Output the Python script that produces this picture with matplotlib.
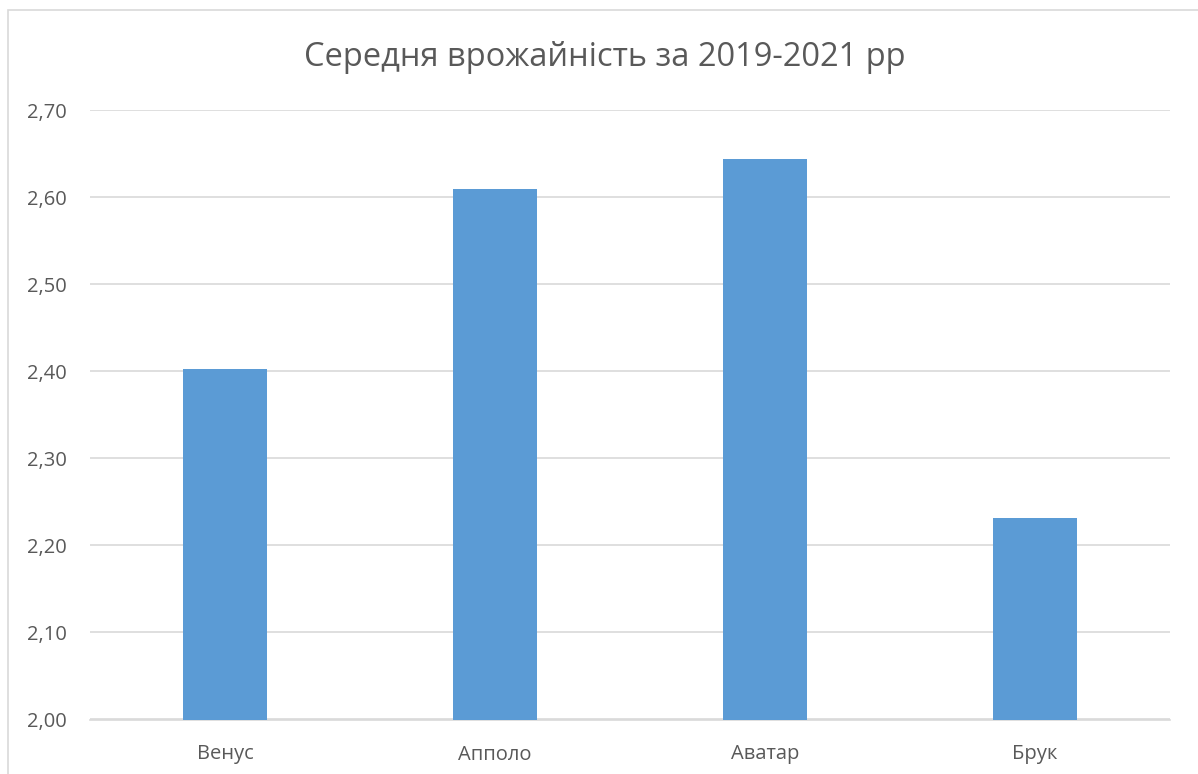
import matplotlib.pyplot as plt
from matplotlib.patches import Rectangle
from matplotlib.ticker import FuncFormatter

varieties = ["Венус", "Апполо", "Аватар", "Брук"]
yields = [2.403, 2.609, 2.644, 2.231]
y_ticks = [2.00, 2.10, 2.20, 2.30, 2.40, 2.50, 2.60, 2.70]

W, H = 1198, 774
fig = plt.figure(figsize=(W / 100, H / 100), dpi=100)
plt.rcParams["font.family"] = ["Open Sans", "DejaVu Sans"]
text_color = "#595959"

# chart frame, runs off the right and bottom edges like the screenshot
fig.patches.append(Rectangle((8 / W, -0.1), 1.2, 1.1 - 10 / H, transform=fig.transFigure,
                             fill=False, edgecolor="#d9d9d9", linewidth=1.2))

ax = fig.add_axes([90 / W, 1 - 719.5 / H, 1080 / W, 609.5 / H])
x = range(len(varieties))
ax.bar(x, yields, width=0.31, color="#5b9bd5", zorder=3)

ax.set_ylim(2.0, 2.7)
ax.set_xlim(-0.5, len(varieties) - 0.5)
ax.set_yticks(y_ticks)
ax.yaxis.set_major_formatter(FuncFormatter(lambda v, p: f"{v:.2f}".replace(".", ",")))
ax.set_xticks(list(x))
ax.set_xticklabels(varieties)
ax.grid(axis="y", color="#d9d9d9", linewidth=1.2, zorder=0)
for s in ["top", "right", "left"]:
    ax.spines[s].set_visible(False)
ax.spines["bottom"].set_color("#d9d9d9")
ax.spines["bottom"].set_linewidth(1.2)
ax.tick_params(length=0, colors=text_color, labelsize=14.5)
ax.tick_params(axis="y", pad=17)
ax.tick_params(axis="x", pad=18)

fig.text(605 / W, 1 - 57 / H, "Середня врожайність за 2019-2021 рр", ha="center", va="center",
         fontsize=23.5, color=text_color)

fig.savefig("out.png", dpi=100)
